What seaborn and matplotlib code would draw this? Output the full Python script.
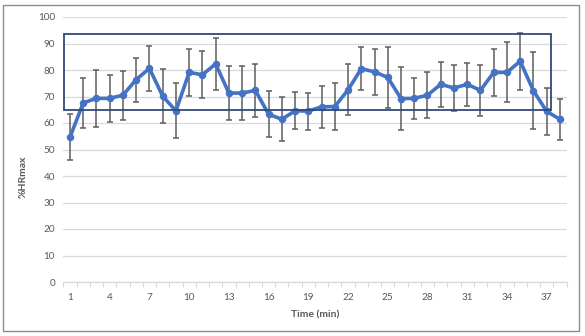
import matplotlib
matplotlib.use("Agg")
import matplotlib.pyplot as plt
from matplotlib.patches import Rectangle
from matplotlib.ticker import MultipleLocator, FixedLocator
import numpy as np
import pandas as pd
import seaborn as sns

# Heart rate over a session: mean %HRmax and standard deviation per minute
minutes = list(range(1, 39))
hr_mean = [54.7, 67.6, 69.3, 69.3, 70.5, 76.4, 80.6, 70.1, 64.6, 79.1,
           78.2, 82.3, 71.3, 71.3, 72.3, 63.3, 61.4, 64.6, 64.5, 66.1,
           66.2, 72.5, 80.5, 79.3, 77.2, 69.2, 69.3, 70.5, 74.6, 73.2,
           74.6, 72.3, 79.1, 79.1, 83.3, 72.2, 64.4, 61.4]
hr_sd = [8.6, 9.3, 10.7, 8.8, 9.2, 8.3, 8.5, 10.2, 10.4, 9.0,
         8.8, 9.7, 10.1, 10.1, 10.0, 8.6, 8.3, 7.0, 7.0, 7.9,
         9.0, 9.6, 8.0, 8.8, 11.6, 11.8, 7.8, 8.8, 8.4, 8.5,
         8.0, 9.5, 9.0, 11.3, 10.8, 14.6, 8.8, 7.8]
x_tick_labels = [str(m) for m in range(1, 38, 3)]
# Target training zone (%HRmax) highlighted with a box
zone_low, zone_high = 65.0, 93.4
zone_x0, zone_x1 = 0.57, 37.33

df = pd.DataFrame({"Time (min)": minutes, "%HRmax": hr_mean, "sd": hr_sd})

sns.set_theme(style="white")
plt.rcParams["font.family"] = ["Lato", "DejaVu Sans"]

W, H = 585, 336
fig = plt.figure(figsize=(W / 100, H / 100), dpi=100)
ax = fig.add_axes([63.4 / W, 1 - 282 / H, (566.5 - 63.4) / W, (282 - 17) / H])

grid_c = "#D9D9D9"
text_c = "#595959"

ax.set_ylim(0, 100)
ax.set_xlim(0.5, 38.5)
ax.yaxis.set_major_locator(MultipleLocator(10))
ax.grid(axis="y", color=grid_c, linewidth=0.9, zorder=0)
ax.set_axisbelow(True)

ax.errorbar(df["Time (min)"], df["%HRmax"], yerr=df["sd"], fmt="none",
            ecolor="#5E5E5E", elinewidth=1.1, capsize=2.4, capthick=1.1,
            zorder=2)
sns.lineplot(data=df, x="Time (min)", y="%HRmax", ax=ax, color="#4472C4",
             linewidth=2.6, marker="o", markersize=5.4, markeredgewidth=0,
             zorder=3)

ax.add_patch(Rectangle((zone_x0, zone_low), zone_x1 - zone_x0,
                       zone_high - zone_low, fill=False,
                       edgecolor="#2F4A7A", linewidth=1.3, zorder=4))

for side in ["top", "right", "left"]:
    ax.spines[side].set_visible(False)
ax.spines["bottom"].set_color(grid_c)
ax.spines["bottom"].set_linewidth(0.9)

ax.xaxis.set_major_locator(FixedLocator(list(range(1, 38, 3))))
ax.set_xticks(np.arange(0.5, 39.0, 1.0), minor=True)
ax.set_xticklabels(x_tick_labels)
ax.tick_params(axis="x", which="major", length=0, pad=8,
               labelsize=7.2, labelcolor=text_c)
ax.tick_params(axis="x", which="minor", length=3.5, width=0.8,
               color=grid_c, direction="out", bottom=True)
ax.tick_params(axis="y", length=0, pad=6, labelsize=7.2, labelcolor=text_c)

ax.set_xlabel("")
ax.set_ylabel("")
fig.text(315 / W, 1 - 315 / H, "Time (min)", ha="center", va="center",
         fontsize=7.5, fontweight="bold", color=text_c)
fig.text(23 / W, 1 - 177 / H, "%HRmax", ha="center", va="center",
         rotation=90, fontsize=7.5, fontweight="bold", color=text_c)

# Outer chart frame
fig.patches.append(Rectangle((3 / W, 5 / H), 576 / W, 326 / H,
                             transform=fig.transFigure, fill=False,
                             edgecolor="#8C8C8C", linewidth=1.0))

fig.savefig("out.png", dpi=100, facecolor="white")
